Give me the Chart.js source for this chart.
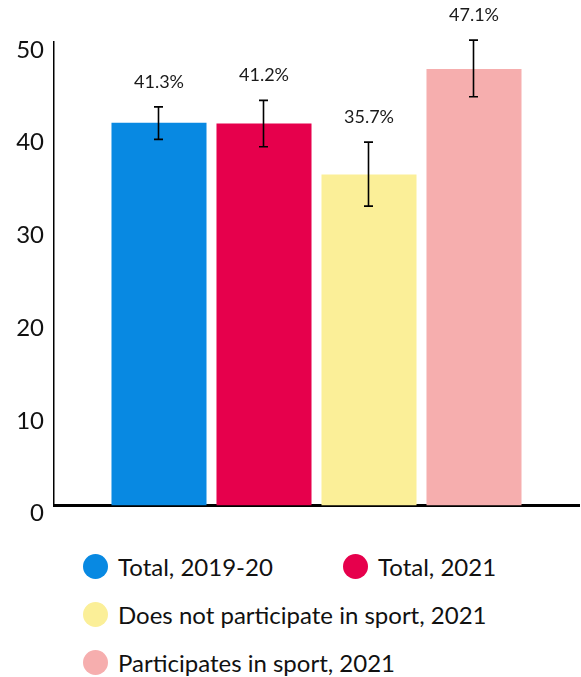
<!DOCTYPE html>
<html>
<head>
<meta charset="utf-8">
<script src="https://cdn.jsdelivr.net/npm/chart.js@4"></script>
<style>
  body { margin: 0; background: #fff; font-family: Lato, sans-serif; }
  #wrap { position: relative; width: 581px; height: 530px; }
  #legend {
    position: absolute; left: 83px; top: 542px;
    display: grid; grid-template-columns: 260px auto; grid-auto-rows: 48px;
    font-size: 24px; color: #111;
  }
  .item { display: flex; align-items: center; white-space: nowrap; }
  .item.wide { grid-column: 1 / span 2; }
  .dot { width: 25px; height: 25px; border-radius: 50%; margin-right: 10px; flex: none; }
</style>
</head>
<body>
<div id="wrap"><canvas id="chart"></canvas></div>
<div id="legend"></div>
<script>
const groups = ['Total, 2019-20', 'Total, 2021', 'Does not participate in sport, 2021', 'Participates in sport, 2021'];
const values = [41.3, 41.2, 35.7, 47.1];
const errLow = [39.5, 38.7, 32.3, 44.1];
const errHigh = [43.0, 43.7, 39.2, 50.2];
const colors = ['#0889e2', '#e6004c', '#fbef98', '#f6aeae'];
const yTicks = [0, 10, 20, 30, 40, 50];

// error bars + value labels drawn on top of the bars
const errorBars = {
  id: 'errorBars',
  afterDatasetsDraw(chart) {
    const ctx = chart.ctx;
    const y = chart.scales.y;
    ctx.save();
    chart.data.datasets.forEach((ds, i) => {
      const bar = chart.getDatasetMeta(i).data[0];
      const x = Math.round(bar.x) - 0.5;
      const top = y.getPixelForValue(errHigh[i]);
      const bot = y.getPixelForValue(errLow[i]);
      ctx.strokeStyle = '#000';
      ctx.lineWidth = 1.6;
      ctx.beginPath();
      ctx.moveTo(x, top); ctx.lineTo(x, bot);
      ctx.moveTo(x - 4.5, top); ctx.lineTo(x + 4.5, top);
      ctx.moveTo(x - 4.5, bot); ctx.lineTo(x + 4.5, bot);
      ctx.stroke();

      ctx.fillStyle = '#1a1a1a';
      ctx.font = '18px Lato';
      ctx.textAlign = 'center';
      ctx.textBaseline = 'middle';
      ctx.fillText(values[i].toFixed(1) + '%', bar.x, top - 25);
    });
    ctx.restore();
  }
};

const chart = new Chart(document.getElementById('chart'), {
  type: 'bar',
  data: {
    labels: [''],
    datasets: groups.map((g, i) => ({
      label: g,
      data: [values[i]],
      backgroundColor: colors[i],
      categoryPercentage: 0.8,
      barPercentage: 0.905
    }))
  },
  options: {
    responsive: true,
    maintainAspectRatio: false,
    animation: false,
    layout: { padding: { top: 42, left: 14, right: 2, bottom: 22 } },
    plugins: { legend: { display: false }, tooltip: { enabled: false } },
    scales: {
      x: {
        grid: { display: false, drawTicks: false },
        border: { display: true, color: '#000', width: 3 },
        ticks: { display: false },
        afterFit(s) { s.height = 0; }
      },
      y: {
        min: 0, max: 50,
        afterBuildTicks(s) { s.ticks = yTicks.map(v => ({ value: v })); },
        afterFit(s) { s.width = 40; },
        grid: { display: false, drawTicks: false },
        border: { display: true, color: '#000', width: 1.5 },
        ticks: { color: '#111', font: { family: 'Lato', size: 24 }, padding: 10, labelOffset: 8 }
      }
    }
  },
  plugins: [errorBars]
});

const legend = document.getElementById('legend');
chart.data.datasets.forEach((ds, i) => {
  const item = document.createElement('div');
  item.className = 'item' + (i > 1 ? ' wide' : '');
  const dot = document.createElement('span');
  dot.className = 'dot';
  dot.style.background = ds.backgroundColor;
  item.appendChild(dot);
  item.appendChild(document.createTextNode(ds.label));
  legend.appendChild(item);
});
</script>
</body>
</html>
